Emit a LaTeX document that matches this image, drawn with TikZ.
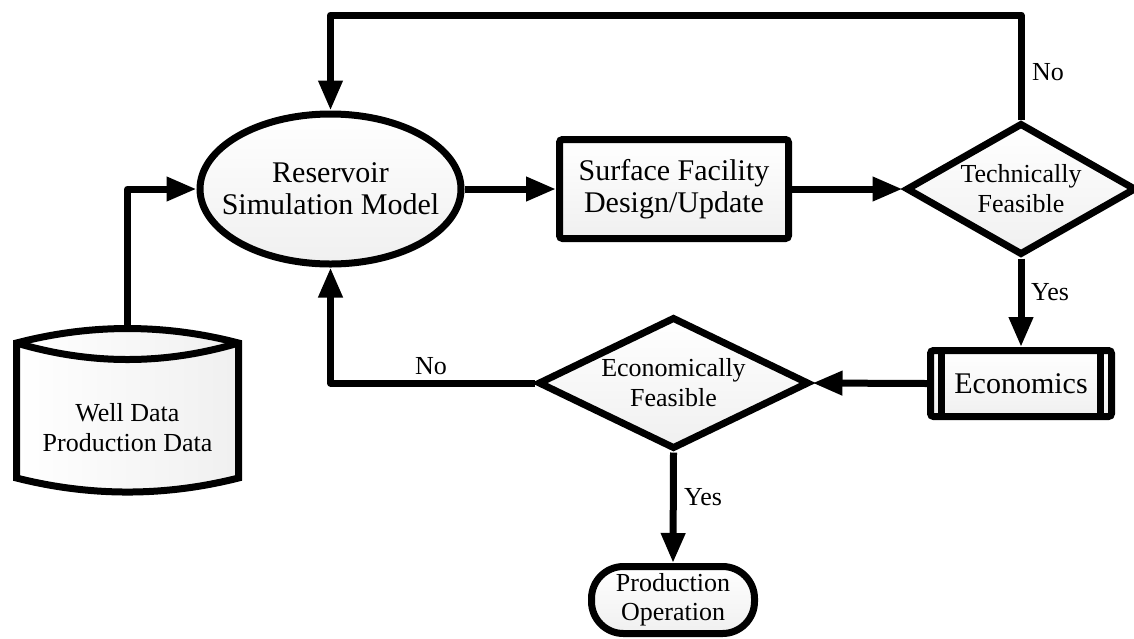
\documentclass[tikz,border=0pt]{standalone}
\usepackage{fontspec}
\setmainfont{Liberation Serif}
\usetikzlibrary{shapes.geometric,arrows.meta}

\tikzset{
  box/.style={draw, line width=3.5pt, top color=white, bottom color=gray!12, inner sep=0pt, align=center},
  bigtext/.style={font=\fontsize{15}{16}\selectfont},
  smalltext/.style={font=\fontsize{13}{15}\selectfont},
  link/.style={line width=3.5pt, line join=round},
  flow/.style={link, -{Triangle[length=15pt,width=11.5pt]}},
}

\begin{document}
\begin{tikzpicture}[x=0.5pt,y=-0.5pt]
\useasboundingbox (0,0) rectangle (1134,638);

% Well data
\path[left color=white, right color=gray!12] (16.5,343) .. controls (90.5,323.7) and (164.5,323.7) .. (238.5,343) -- (238.5,478) .. controls (164.5,496.7) and (90.5,496.7) .. (16.5,478) -- cycle;
\draw[line width=3.5pt] (16.5,478) -- (16.5,343) .. controls (90.5,323.7) and (164.5,323.7) .. (238.5,343) -- (238.5,478) .. controls (164.5,496.7) and (90.5,496.7) .. cycle;
\draw[line width=3.5pt] (16.5,343) .. controls (90.5,365) and (164.5,365) .. (238.5,343);
\node[smalltext, align=center] (well) at (127.5,428) {Well Data\\Production Data};
\coordinate (wellTop) at (127.5,328.5);

% Reservoir
\node[box, ellipse, minimum width=130.5pt, minimum height=75pt,
  label={[name=resText, bigtext, align=center]center:Reservoir\\Simulation Model}] (res) at (330.5,189) {};

% Surface facility
\node[box, bigtext, rounded corners=1.5pt, minimum width=114.5pt, minimum height=49.5pt] (sfd) at (674,189) {Surface Facility\\Design/Update};

% Technically feasible
\node[box, diamond, minimum width=115pt, minimum height=66pt,
  label={[name=techText, smalltext, align=center]center:Technically\\Feasible}] (tech) at (1021,189) {};

% Economics
\node[box, bigtext, rounded corners=1.5pt, minimum width=90.5pt, minimum height=33pt] (eco) at (1021,383.5) {Economics};
\draw[line width=3.5pt] ([xshift=7.25pt]eco.north west) -- ([xshift=7.25pt]eco.south west);
\draw[line width=3.5pt] ([xshift=-7.25pt]eco.north east) -- ([xshift=-7.25pt]eco.south east);

% Economically feasible
\node[box, diamond, minimum width=135.5pt, minimum height=66pt,
  label={[name=econText, smalltext, align=center]center:Economically\\Feasible}] (econ) at (673.5,383) {};

% Production operation
\node[box, font=\fontsize{13}{14.5}\selectfont, rounded corners=16pt, minimum width=81.5pt, minimum height=33.5pt] (prod) at (673,600) {Production\\Operation};

% Connectors
\coordinate (loopTop) at (res.north |- 0,15);
\draw[flow] (wellTop) |- (res.west);
\draw[flow] (res.east) -- (sfd.west);
\draw[flow] (sfd.east) -- (tech.west);
\draw[flow] (tech.north) |- (loopTop) -- (res.north);
\node[smalltext] (noTech) at (1048,72) {No};
\draw[flow] (tech.south) -- (eco.north);
\node[smalltext] (yesTech) at (1050,292) {Yes};
\draw[flow] (eco.west) -- (econ.east);
\draw[flow] (econ.west) -| (res.south);
\node[smalltext] (noEcon) at (431,366) {No};
\draw[flow] (econ.south) -- (prod.north);
\node[smalltext] (yesEcon) at (703,497) {Yes};

\end{tikzpicture}
\end{document}
